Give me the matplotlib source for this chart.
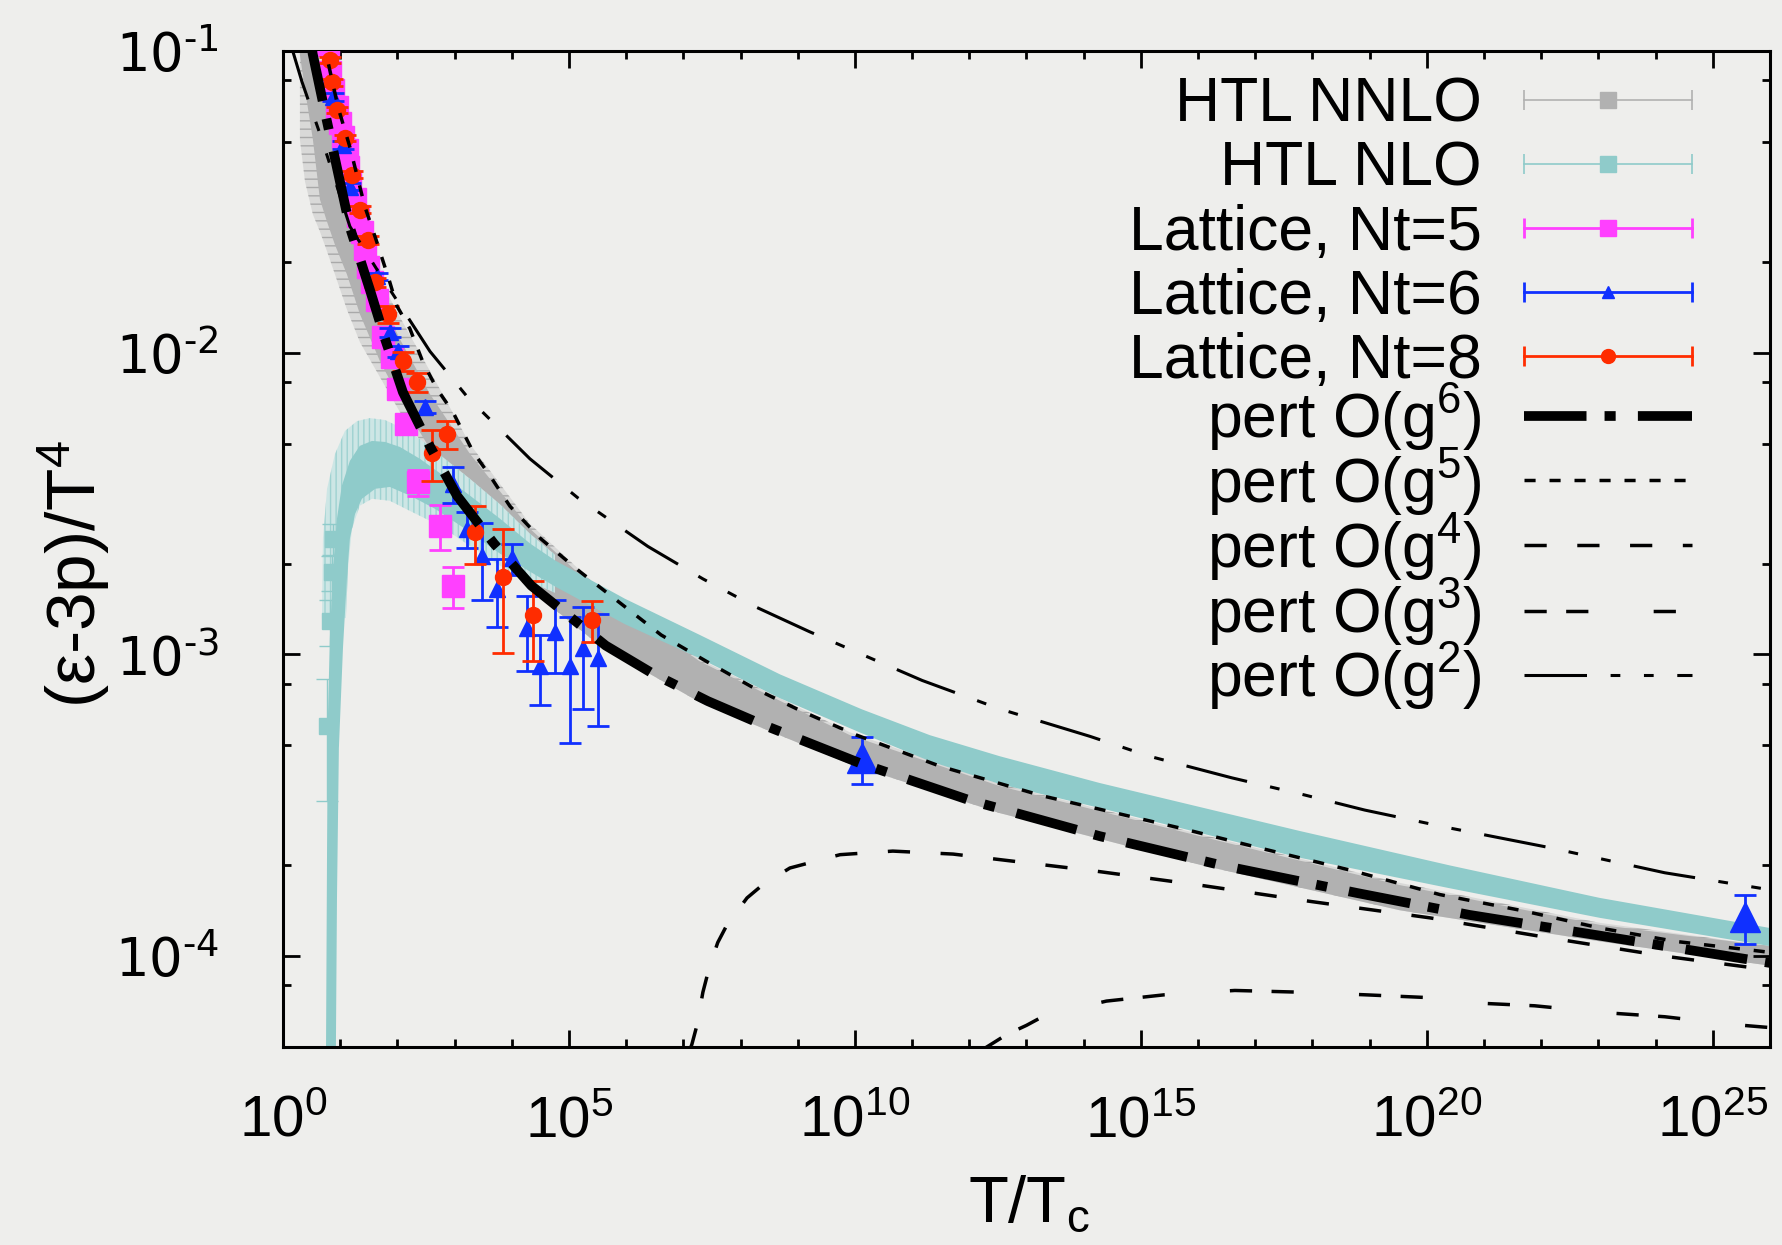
import matplotlib
matplotlib.use('Agg')
import matplotlib.pyplot as plt
import numpy as np
from matplotlib.lines import Line2D
from matplotlib.legend_handler import HandlerLine2D
from matplotlib.ticker import FixedLocator, LogLocator, NullFormatter

plt.rcParams['font.family'] = ['Liberation Sans', 'DejaVu Sans']
plt.rcParams['mathtext.default'] = 'regular'
plt.rcParams['lines.scale_dashes'] = False
plt.rcParams['hatch.linewidth'] = 1.0

# HTL NNLO band (grey): solid core and outer edge of the error-bar caps
nnlo_x = [1.98, 2.43, 3.34, 4.43, 5.88, 8.1, 13.1, 22.2, 49.6, 111, 372, 1.86e3, 2.08e4,
          3.48e5, 1.95e7, 8.2e9, 3.43e12, 1.07e16, 3.37e19, 1.06e23, 1e26]
nnlo_core_hi = [0.109, 0.107, 0.104, 0.092, 0.0653, 0.0471, 0.0322, 0.0225, 0.01526, 0.01108,
                0.00729, 0.00462, 0.00261, 0.0016, 0.000948, 0.00054, 0.000366, 0.00025,
                0.000172, 0.000127, 0.000108]
nnlo_core_lo = [0.097, 0.0743, 0.0508, 0.0322, 0.0272, 0.0228, 0.0182, 0.01341, 0.00937, 0.00702,
                0.0048, 0.00286, 0.00164, 0.00107, 0.000694, 0.000433, 0.000298, 0.000201,
                0.000142, 0.000112, 0.000093]
nnlo_env_hi = [0.1104, 0.1087, 0.1055, 0.0948, 0.0689, 0.0508, 0.0361, 0.0246, 0.0175, 0.01311,
               0.00869, 0.00498, 0.00271, 0.00165, 0.000963, 0.000552, 0.000372, 0.000254,
               0.000175, 0.000129, 0.000108]
nnlo_env_lo = [0.0508, 0.0369, 0.0287, 0.0252, 0.0217, 0.0182, 0.01392, 0.01083, 0.0083, 0.00636,
               0.00462, 0.00282, 0.00164, 0.00107, 0.000694, 0.000433, 0.000298, 0.000201,
               0.000142, 0.000112, 0.000093]

# HTL NLO band (cyan): outer and inner edge of the ribbon
nlo_out_x = [5.65, 5.9, 6.1, 6.6, 7.5, 8.8, 10.7, 14.8, 22, 36, 61, 111, 248, 680, 1.86e3, 6.2e3,
             2.1e4, 5.7e4, 9.5e5, 1.95e7, 4.9e8, 1.32e10, 2.05e11, 3.4e12, 1.9e14, 6.0e17, 2.5e20,
             1.06e23, 1e26]
nlo_out_y = [4.6e-5, 2.28e-4, 6.1e-4, 1.13e-3, 1.92e-3, 2.82e-3, 3.62e-3, 4.38e-3, 4.91e-3, 5.1e-3,
             5.06e-3, 4.87e-3, 4.45e-3, 3.88e-3, 3.36e-3, 2.82e-3, 2.33e-3, 2.05e-3, 1.53e-3,
             1.16e-3, 8.59e-4, 6.58e-4, 5.4e-4, 4.6e-4, 3.75e-4, 2.6e-4, 2.0e-4, 1.56e-4, 1.24e-4]
nlo_in_x = [8.4, 8.8, 9.5, 11.2, 13.1, 14.8, 18.2, 24, 41, 74, 166, 454, 1.52e3, 6.2e3, 2.1e4,
            5.7e4, 9.5e5, 1.95e7, 4.9e8, 1.32e10, 2.05e11, 3.4e12, 1.9e14, 6.0e17, 2.5e20, 1.06e23, 1e26]
nlo_in_y = [4.6e-5, 1.56e-4, 4.89e-4, 1.05e-3, 1.78e-3, 2.42e-3, 2.92e-3, 3.28e-3, 3.54e-3,
            3.59e-3, 3.36e-3, 3.04e-3, 2.61e-3, 2.16e-3, 1.88e-3, 1.68e-3, 1.26e-3, 9.7e-4,
            7.16e-4, 5.48e-4, 4.43e-4, 3.72e-4, 3.1e-4, 2.12e-4, 1.68e-4, 1.34e-4, 1.08e-4]
# caps region around the NLO maximum
nlo_env_out_x = [4.8, 5.0, 5.9, 8.1, 12.1, 19.7, 33, 61, 111, 248, 680, 1.86e3, 6.2e3, 2.1e4, 5.7e4]
nlo_env_out_y = [1.32e-3, 2.42e-3, 3.54e-3, 4.61e-3, 5.5e-3, 5.93e-3, 6.07e-3, 5.98e-3, 5.67e-3,
                 5.18e-3, 4.45e-3, 3.82e-3, 3.15e-3, 2.51e-3, 2.14e-3]
nlo_env_in_x = [12.6, 13.7, 16.1, 22, 36, 74, 166, 556, 1.86e3, 6.2e3, 2.1e4, 5.7e4]
nlo_env_in_y = [1.32e-3, 1.92e-3, 2.61e-3, 3.11e-3, 3.28e-3, 3.23e-3, 2.99e-3, 2.67e-3, 2.29e-3,
                1.97e-3, 1.74e-3, 1.6e-3]
nlo_pts_x = [5.9, 6.6, 7.2, 7.5]
nlo_pts_y = [5.78e-4, 1.29e-3, 1.87e-3, 2.42e-3]
nlo_pts_err = [2.5e-4, 2.2e-4, 2.5e-4, 2.8e-4]

# lattice data
nt5_x = [6.1, 6.6, 7.5, 8.8, 9.9, 11.2, 13.1, 13.7, 14.8, 18.1, 20.5, 24.0, 27.2, 30.6, 36.0,
         44.0, 56.0, 80.5, 102, 142, 229, 556, 938]
nt5_y = [0.105, 0.085, 0.0743, 0.0653, 0.0578, 0.052, 0.0471, 0.0413, 0.0366, 0.0322, 0.0283,
         0.0252, 0.022, 0.0193, 0.0171, 0.015, 0.0113, 0.0097, 0.0076, 0.0058, 0.00373, 0.00267, 0.00169]
nt5_err = [0.003, 0.0025, 0.002, 0.002, 0.0017, 0.0015, 0.0014, 0.0012, 0.0011, 0.001, 0.0009,
           0.0008, 0.0007, 0.0006, 0.0006, 0.0005, 0.0004, 0.0004, 0.0003, 0.0003, 0.00037, 0.00045, 0.00026]

nt6_x = [7.5, 11.2, 14.8, 44.0, 74.3, 102, 304, 938, 1650, 3010, 5510, 1.01e4, 1.85e4, 3.11e4,
         5.69e4, 1.04e5, 1.76e5, 3.21e5, 1.33e10, 3.6e25]
nt6_y = [0.0705, 0.0489, 0.0355, 0.0179, 0.0117, 0.0101, 0.0066, 0.00367, 0.00261, 0.00212,
         0.00165, 0.00208, 0.00122, 0.000919, 0.00119, 0.000919, 0.00105, 0.00097, 0.000453, 0.000135]
nt6_err = [0.002, 0.0015, 0.001, 0.0005, 0.0004, 0.0004, 0.0003, 0.0005, 0.00035, 0.0006, 0.00042,
           0.00025, 0.00034, 0.00024, 0.00032, 0.00041, 0.00039, 0.00039, 0.00008, 0.000025]

nt8_x = [6.6, 7.2, 8.8, 12.1, 16.1, 22.2, 30.6, 40.6, 68.5, 125, 220, 403, 736, 2270, 7020, 2.35e4, 2.52e5]
nt8_y = [0.0934, 0.0787, 0.0638, 0.0516, 0.0389, 0.0298, 0.0237, 0.0171, 0.0134, 0.00937, 0.00799,
         0.00466, 0.00538, 0.00255, 0.00181, 0.00135, 0.0013]
nt8_err = [0.002, 0.002, 0.0015, 0.0012, 0.001, 0.0008, 0.0007, 0.0006, 0.0009, 0.0007, 0.0006,
           0.0009, 0.00057, 0.00055, 0.0008, 0.0004, 0.0002]

# perturbative curves
g6_x = [3.09, 3.3, 5.4, 8.8, 14.8, 33, 61, 125, 370, 1.1e3, 4.9e3, 2.2e4, 4.4e5, 2.9e6, 2.7e7,
        2.2e8, 1.2e10, 1.0e12, 1.9e14, 2.6e16, 6.0e18, 5.6e20, 1.05e23, 1e26]
g6_y = [0.109, 0.098, 0.063, 0.041, 0.026, 0.0162, 0.0111, 0.0074, 0.0049, 0.00336, 0.00233,
        0.00169, 0.00107, 8.65e-4, 7.0e-4, 5.9e-4, 4.37e-4, 3.29e-4, 2.5e-4, 2.0e-4, 1.62e-4,
        1.37e-4, 1.17e-4, 9.5e-5]
g5_x = [5.4, 5.9, 9.2, 14.8, 27, 44, 74, 98, 166, 280, 490, 940, 2.1e3, 4.2e3, 9.3e3, 3.2e4,
        1.56e5, 7.2e5, 4.1e6, 2.5e7, 1.8e8, 1.14e9, 1.08e10, 3.1e11, 1.9e13, 4.8e15, 1.5e17,
        4.5e18, 1.7e20, 5.2e21, 1.06e23, 2.2e24, 1e26]
g5_y = [0.109, 0.095, 0.065, 0.048, 0.0305, 0.0232, 0.0171, 0.0143, 0.012, 0.0093, 0.0076, 0.00635,
        0.0047, 0.0039, 0.0031, 0.00242, 0.00188, 0.0015, 0.00116, 9.5e-4, 7.7e-4, 6.5e-4, 5.4e-4,
        4.26e-4, 3.4e-4, 2.66e-4, 2.26e-4, 1.93e-4, 1.6e-4, 1.41e-4, 1.24e-4, 1.12e-4, 1.03e-4]
g4_x = [1.3e7, 1.41e7, 1.73e7, 2.2e7, 2.9e7, 4.0e7, 5.8e7, 1.3e8, 2.4e8, 7.3e8, 5.5e9, 4.6e10,
        5.2e11, 4.2e12, 1.45e14, 1.07e16, 9.0e17, 1.13e20, 1.4e22, 1.45e24, 1e26]
g4_y = [4.9e-5, 5.1e-5, 5.9e-5, 7.6e-5, 9.3e-5, 1.11e-4, 1.27e-4, 1.56e-4, 1.72e-4, 1.96e-4,
        2.17e-4, 2.23e-4, 2.18e-4, 2.08e-4, 1.92e-4, 1.72e-4, 1.52e-4, 1.34e-4, 1.15e-4, 1.0e-4, 9.0e-5]
g3_x = [1.7e12, 4.5e12, 1.0e13, 1.9e13, 5.7e13, 2.5e14, 2.6e15, 4.4e16, 6.0e17, 8.2e18, 9.2e19,
        6.9e20, 7.7e21, 1.3e23, 1.45e24, 2.0e25, 1e26]
g3_y = [4.9e-5, 5.5e-5, 5.9e-5, 6.3e-5, 6.65e-5, 7.1e-5, 7.45e-5, 7.7e-5, 7.6e-5, 7.45e-5, 7.3e-5,
        7.0e-5, 6.85e-5, 6.5e-5, 6.3e-5, 5.95e-5, 5.8e-5]
g2_x = [1.33, 1.5, 2.15, 4.81, 14.8, 49.6, 372, 1.71e3, 2.08e4, 1.44e5, 2.4e6, 2.2e7, 1.8e8, 1.6e9,
        1.7e10, 1.5e11, 3.4e12, 1.3e14, 1.4e15, 3.9e16, 7.4e17, 8.2e18, 2.5e20, 1.4e22, 1.45e24, 1e26]
g2_y = [0.109, 0.0992, 0.079, 0.0508, 0.0262, 0.0182, 0.0101, 0.0071, 0.00445, 0.0033, 0.00228,
        0.00178, 0.00144, 0.00119, 9.8e-4, 8.2e-4, 6.6e-4, 5.35e-4, 4.6e-4, 3.9e-4, 3.42e-4,
        3.05e-4, 2.66e-4, 2.29e-4, 1.89e-4, 1.66e-4]

grey = '#b1b1b1'
cyan = '#8fcbca'
magenta = '#ff40ff'
blue = '#1030ff'
red = '#ff2c00'
bg = '#eeeeec'

fig = plt.figure(figsize=(17.83, 12.45), dpi=100, facecolor=bg)
ax = fig.add_axes([0.1587, 0.159, 0.834, 0.8001])
ax.set_facecolor(bg)
ax.set_xscale('log')
ax.set_yscale('log')

# bands
ax.fill(np.concatenate([nnlo_x, nnlo_x[::-1]]), np.concatenate([nnlo_env_hi, nnlo_env_lo[::-1]]),
        facecolor='#d9d9d8', edgecolor='#a9a9a9', hatch='--', lw=0, zorder=1)
ax.fill(np.concatenate([nnlo_x, nnlo_x[::-1]]), np.concatenate([nnlo_core_hi, nnlo_core_lo[::-1]]),
        color=grey, lw=0, zorder=1.1)
ax.fill(np.concatenate([nlo_env_out_x, nlo_env_in_x[::-1]]),
        np.concatenate([nlo_env_out_y, nlo_env_in_y[::-1]]),
        facecolor='#cde6e5', edgecolor='#9fd2d1', hatch='|||', lw=0, zorder=1.5)
ax.fill(np.concatenate([nlo_out_x, nlo_in_x[::-1]]), np.concatenate([nlo_out_y, nlo_in_y[::-1]]),
        color=cyan, lw=0, zorder=1.6)
ax.errorbar(nlo_pts_x, nlo_pts_y, yerr=nlo_pts_err, fmt='s', color=cyan, ms=11, lw=1,
            capsize=8, capthick=1, zorder=1.7)

# lattice
ax.errorbar(nt5_x, nt5_y, yerr=nt5_err, fmt='s', color=magenta, ms=16, lw=2,
            capsize=8, capthick=2, zorder=3)
ax.errorbar(nt6_x[:-2], nt6_y[:-2], yerr=nt6_err[:-2], fmt='^', color=blue, ms=11, lw=2,
            capsize=8, capthick=2, zorder=4)
ax.errorbar(nt6_x[-2:], nt6_y[-2:], yerr=nt6_err[-2:], fmt='^', color=blue, ms=22, lw=2,
            capsize=8, capthick=2, zorder=4)
ax.errorbar(nt8_x, nt8_y, yerr=nt8_err, fmt='o', color=red, ms=11.5, lw=2,
            capsize=8, capthick=2, zorder=5)

# perturbative lines
st6 = dict(color='k', lw=7, dashes=(45, 13, 8, 16))
st5 = dict(color='k', lw=2.5, dashes=(8, 10))
st4 = dict(color='k', lw=2.5, dashes=(16, 22))
st3 = dict(color='k', lw=2.5, dashes=(16, 14, 16, 47))
st2 = dict(color='k', lw=2.2, dashes=(45, 17, 7, 17, 7, 17))
ax.plot(g6_x, g6_y, zorder=7, **st6)
ax.plot(g5_x, g5_y, zorder=7, **st5)
ax.plot(g4_x, g4_y, zorder=7, **st4)
ax.plot(g3_x, g3_y, zorder=7, **st3)
ax.plot(g2_x, g2_y, zorder=7, **st2)

ax.set_xlim(1, 1e26)

# ticks
xt = [1e0, 1e5, 1e10, 1e15, 1e20, 1e25]
ax.set_xticks(xt, [r'$10^{0}$', r'$10^{5}$', r'$10^{10}$', r'$10^{15}$', r'$10^{20}$', r'$10^{25}$'],
              fontsize=42, fontfamily='Liberation Sans')
ax.xaxis.set_minor_locator(FixedLocator([10.0 ** k for k in range(27) if k % 5]))
ax.xaxis.set_minor_formatter(NullFormatter())
yt = [1e-4, 1e-3, 1e-2, 1e-1]
ax.set_yticks(yt, ['$10^{\u20104}$', '$10^{\u20103}$', '$10^{\u20102}$', '$10^{\u20101}$'],
              fontsize=38, fontfamily='DejaVu Sans')
ax.yaxis.set_minor_locator(LogLocator(base=10, subs=(2, 5, 8)))
ax.yaxis.set_minor_formatter(NullFormatter())
ax.set_ylim(5e-5, 0.1)
ax.tick_params(which='both', direction='in', top=True, right=True, width=2)
ax.tick_params(which='major', length=12)
ax.tick_params(which='minor', length=6)
ax.tick_params(axis='x', which='major', pad=34)
ax.tick_params(axis='y', which='major', pad=46)
for s in ax.spines.values():
    s.set_linewidth(2.2)

ax.set_xlabel(r'T/T$_c$', fontsize=47, va='center')
ax.xaxis.set_label_coords(0.502, -0.158)
ax.set_ylabel(r'(ε-3p)/T$^4$', fontsize=50, va='center')
ax.yaxis.set_label_coords(-0.1406, 0.475)

# legend: error-bar entries and line entries in two blocks with the same row pitch
def eb_handle(color, marker, ms, lw):
    caps = Line2D([], [], color=color, lw=lw, marker='|', markersize=14, markeredgewidth=lw)
    mark = Line2D([], [], color=color, linestyle='none', marker=marker, markersize=ms)
    return caps, mark

hmap = {}
eb_handles = []
for color, marker, ms, lw in [(grey, 's', 11, 1.2), (cyan, 's', 11, 1.2), (magenta, 's', 11, 2),
                              (blue, '^', 9, 2), (red, 'o', 10, 2)]:
    caps, mark = eb_handle(color, marker, ms, lw)
    hmap[caps] = HandlerLine2D(numpoints=2, marker_pad=0)
    eb_handles.append((caps, mark))
eb_labels = ['HTL NNLO', 'HTL NLO', 'Lattice, Nt=5', 'Lattice, Nt=6', 'Lattice, Nt=8']
line_handles = [Line2D([], [], **st) for st in [st6, st5, st4, st3, st2]]
line_labels = [r'pert O(g$^6$)', r'pert O(g$^5$)', r'pert O(g$^4$)', r'pert O(g$^3$)', r'pert O(g$^2$)']

common = dict(loc='upper right', frameon=False, markerfirst=False, fontsize=45, handlelength=2.69,
              handletextpad=0.67, borderpad=0, borderaxespad=0)
leg1 = ax.legend(eb_handles, eb_labels, handler_map=hmap, bbox_to_anchor=(0.9475, 0.975),
                 labelspacing=0.08, **common)
leg1.set_zorder(10)
ax.add_artist(leg1)
leg2 = ax.legend(line_handles, line_labels, bbox_to_anchor=(0.9475, 0.668),
                 labelspacing=-0.11, **common)
leg2.set_zorder(10)

fig.savefig('out.png', dpi=100, facecolor=bg)
